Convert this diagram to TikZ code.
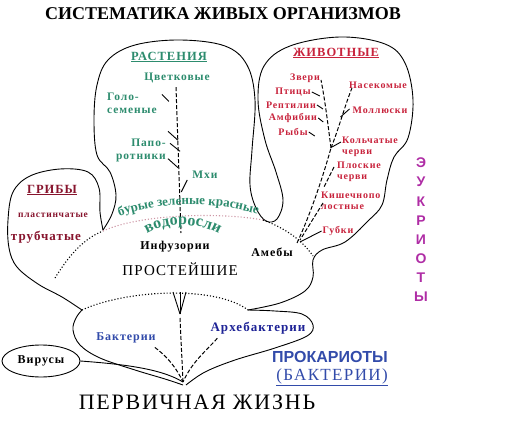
\documentclass[tikz,border=0pt]{standalone}
\usepackage{fontspec}
\setmainfont{Liberation Serif}
\newfontfamily\sansfont{Liberation Sans}
\newfontfamily\widefont[LetterSpace=8]{Liberation Serif}
\usepackage{xcolor}
\usetikzlibrary{positioning}
\usetikzlibrary{shapes.geometric}
\usetikzlibrary{decorations.text}
\definecolor{plantgreen}{RGB}{45,140,110}
\definecolor{animalred}{RGB}{200,35,60}
\definecolor{fungired}{RGB}{135,20,45}
\definecolor{bactblue}{RGB}{50,75,170}
\definecolor{prokblue}{RGB}{30,35,150}
\definecolor{eukpink}{RGB}{175,45,165}
\definecolor{seapink}{RGB}{205,150,165}

\begin{document}
\begin{tikzpicture}[x=1pt, y=-1pt,
  every node/.style={inner sep=1pt, align=center, font=\bfseries\fontsize{12}{13}\selectfont},
  contour/.style={line width=0.9pt},
  border/.style={dotted, line width=1.1pt},
  trunk/.style={line width=1pt, dash pattern=on 4pt off 2pt},
  twig/.style={line width=0.9pt},
  plant/.style={text=plantgreen, font=\widefont\bfseries\fontsize{11.5}{13}\selectfont},
  animal/.style={text=animalred, font=\widefont\bfseries\fontsize{10}{11.5}\selectfont},
  fungus/.style={text=fungired, font=\widefont\bfseries\fontsize{12}{13}\selectfont},
  protist/.style={text=black, font=\widefont\bfseries\fontsize{12}{13}\selectfont},
  bact/.style={text=bactblue, font=\widefont\bfseries\fontsize{12}{13}\selectfont}]
  \useasboundingbox (0,0) rectangle (506,425);

  % outline of the tree
  \draw[contour] plot[smooth, tension=0.6] coordinates {(183,385) (165,379) (135,370) (100,358) (80,345) (73,330) (76,318) (82,310)};
  \draw[contour] plot[smooth, tension=0.6] coordinates {(82,310) (62,297) (38,284) (17,267) (9,248) (8,220) (13,192) (30,176) (60,169) (88,172) (99,188) (100,212) (103,230)};
  \draw[contour] plot[smooth, tension=0.6] coordinates {(103,230) (112,214) (116,195) (110,172) (97,155) (94,120) (97,85) (108,60) (135,45) (180,40) (225,46) (247,65) (255,100) (252,150) (250,185) (256,208) (266,221) (277,219) (283,200) (276,172) (265,140) (258,100) (264,66) (290,46) (340,37) (385,44) (405,63) (413,100) (408,138) (394,157) (387,180) (382,205) (368,221) (345,242) (322,250) (313,260) (313,277) (305,291) (280,303) (248,310)};
  \draw[contour] plot[smooth, tension=0.6] coordinates {(248,310) (275,311) (302,314) (313,325) (307,336) (275,348) (235,360) (205,372) (186,385)};

  % dotted borders
  \draw[border] (82,310) .. controls (125,290) and (215,285) .. (248,310);
  \draw[border] (55,278) .. controls (65,262) and (80,240) .. (103,231);
  \draw[border, seapink] (103,231) .. controls (140,214) and (220,212) .. (263,220);
  \draw[border] (263,220) .. controls (285,228) and (302,240) .. (313,256);

  % title and bottom
  \node (title) at (223,14) {\fontsize{18}{20}\selectfont СИСТЕМАТИКА ЖИВЫХ ОРГАНИЗМОВ};
  \node[font=\widefont\fontsize{22}{24}\selectfont] (origin) at (197,402) {ПЕРВИЧНАЯ ЖИЗНЬ};

  % plants
  \node[plant, font=\widefont\bfseries\fontsize{12.5}{14}\selectfont] (plants) at (169,57) {\underline{РАСТЕНИЯ}};
  \node[plant] (flower) at (177,78) {Цветковые};
  \node[plant, align=left, anchor=west] (gymno) at (106,103) {Голо-\\семеные};
  \node[plant, align=right, anchor=east] (fern) at (167,150) {Папо-\\ротники};
  \node[plant] (moss) at (205,175) {Мхи};
  \draw[trunk] (flower.south) ++(-1,3) coordinate (ptop) -- (181,233) coordinate (pbot);
  \draw[twig] ([shift={(4,3)}]gymno.north east) -- ++(7,7);
  \draw[twig] ([shift={(1,-6)}]fern.north east) -- ++(10,9);
  \draw[twig] ([shift={(3,6)}]fern.north east) -- ++(10,8);
  \draw[twig] ([shift={(1,-4)}]fern.south east) -- ++(10,9);
  \draw[twig] ([shift={(-4,0)}]moss.south west) -- ++(-6,12);

  % algae
  \path[decorate, decoration={text along path, text align=center,
    text={|\bfseries\fontsize{13}{13}\selectfont\color{plantgreen}|бурые  зеленые  красные}}]
    (110,220) .. controls (150,201) and (222,199) .. (267,218);
  \path[decorate, decoration={text along path, text align=center,
    text={|\bfseries\fontsize{16}{16}\selectfont\color{plantgreen}|водоросли}}]
    (136,243) .. controls (156,219) and (208,219) .. (230,243);

  % fungi
  \node[fungus, font=\widefont\bfseries\fontsize{12.5}{14}\selectfont] (fungi) at (52,190) {\underline{ГРИБЫ}};
  \node[fungus, font=\widefont\bfseries\fontsize{9.5}{10}\selectfont] (agaric) at (53,215) {пластинчатые};
  \node[fungus, font=\widefont\bfseries\fontsize{13}{14}\selectfont] (bolete) at (46,237) {трубчатые};

  % animals
  \node[animal, font=\widefont\bfseries\fontsize{12.5}{14}\selectfont] (animals) at (336,53) {\underline{ЖИВОТНЫЕ}};
  \node[animal] (mammal) at (305,78) {Звери};
  \node[animal] (bird) at (293,92) {Птицы};
  \node[animal] (reptile) at (291,105) {Рептилии};
  \node[animal] (amphib) at (293,118) {Амфибии};
  \node[animal] (fish) at (293,132) {Рыбы};
  \node[animal] (insect) at (378,85) {Насекомые};
  \node[animal] (mollusc) at (380,110) {Моллюски};
  \node[animal, align=left, anchor=west] (annelid) at (341,147) {Кольчатые\\черви};
  \node[animal, align=left, anchor=west] (flatworm) at (336,172) {Плоские\\черви};
  \node[animal, align=left, anchor=west] (cnidar) at (320,201) {Кишечнопо\\лостные};
  \node[animal] (sponge) at (338,231) {Губки};
  \coordinate (abase) at (297,243);
  \coordinate (afork) at (331,148);
  \draw[trunk] (abase) .. controls (310,215) and (322,180) .. (afork);
  \draw[trunk] (afork) .. controls (340,125) and (345,105) .. (352,88);
  \draw[trunk] (afork) .. controls (328,125) and (325,100) .. (321,80);
  \draw[twig] (bird.east) -- ++(8,4);
  \draw[twig] (reptile.east) -- ++(6,4);
  \draw[twig] (amphib.east) -- ++(5,4);
  \draw[twig] (fish.east) -- ++(6,4);
  \draw[twig] (mollusc.west) ++(-2,-1) -- ++(-9,8);
  \draw[twig] (annelid.west) ++(0,-5) -- ++(-9,5);
  \draw[trunk] (flatworm.west) ++(-2,-5) -- ++(-10,20);
  \draw[trunk] (cnidar.west) ++(3,2) -- (300,240);
  \draw[twig] (sponge.west) -- (300,242);

  % protists
  \node[protist] (ciliate) at (175,247) {Инфузории};
  \node[protist] (amoeba) at (272,252) {Амебы};
  \node[font=\widefont\fontsize{15}{16}\selectfont] (protozoa) at (180,269) {ПРОСТЕЙШИЕ};

  % prokaryotes
  \node[bact] (bacteria) at (126,338) {Бактерии};
  \node[bact, text=prokblue, font=\widefont\bfseries\fontsize{13}{14}\selectfont] (archaea) at (258,328) {Архебактерии};
  \node[draw, ellipse, line width=0.9pt, minimum width=78, minimum height=32,
    font=\widefont\bfseries\fontsize{12}{13}\selectfont] (virus) at (41,361) {Вирусы};
  \coordinate (root) at (183,382);
  \draw[contour] (virus.east) .. controls (120,364) and (160,368) .. (root);
  \draw[trunk] (bacteria.south east) ++(-2,3) .. controls (165,355) and (175,365) .. (root);
  \draw[trunk] (180,318) -- (root);
  \draw[trunk] (archaea.south west) ++(8,3) .. controls (205,352) and (192,362) .. (root);
  \coordinate (fan) at (180,314);
  \foreach \dx in {-7,0,6} \draw[twig] (180+\dx,292) -- (fan);
  \node[text=bactblue, font=\sansfont\bfseries\fontsize{16}{17}\selectfont] (prok) at (330,357) {ПРОКАРИОТЫ};
  \node[text=bactblue, font=\widefont\fontsize{17}{18}\selectfont] (prokb) at (332,377) {\underline{(БАКТЕРИИ)}};

  % eukaryotes, written down the side
  \foreach \l [count=\i] in {Э,У,К,Р,И,О,Т,Ы}
    \node[text=eukpink, font=\sansfont\bfseries\fontsize{14}{14}\selectfont] (euk\i) at (421,{163+19.1*(\i-1)}) {\l};
\end{tikzpicture}
\end{document}
